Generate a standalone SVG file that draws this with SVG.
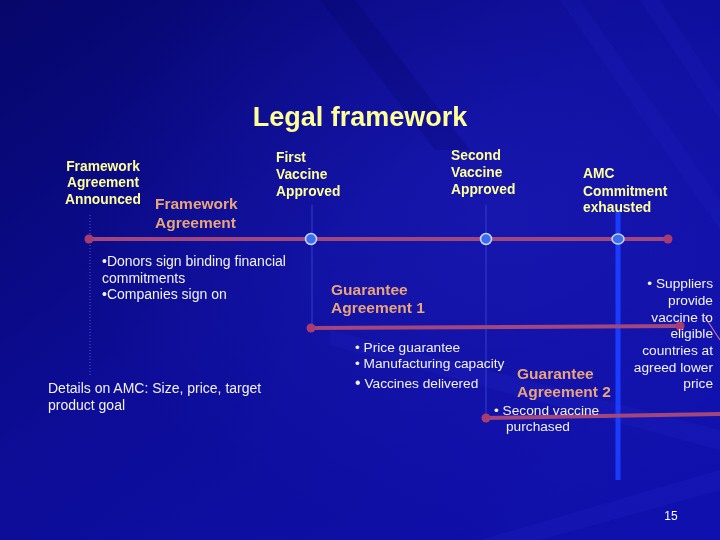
<svg xmlns="http://www.w3.org/2000/svg" width="720" height="540" viewBox="0 0 720 540">
<defs>
<linearGradient id="bg" x1="0" y1="0" x2="1" y2="1">
<stop offset="0" stop-color="#06066a"/>
<stop offset="0.45" stop-color="#0d0d98"/>
<stop offset="1" stop-color="#1010b0"/>
</linearGradient>
<radialGradient id="glow" cx="0.7" cy="0.4" r="0.6">
<stop offset="0" stop-color="#2222c4" stop-opacity="0.45"/>
<stop offset="1" stop-color="#2222c4" stop-opacity="0"/>
</radialGradient>
<style>
.yl{font-family:"Liberation Sans",Arial,sans-serif;font-weight:bold;font-size:13.8px;fill:#ffff99}
.or{font-family:"Liberation Sans",Arial,sans-serif;font-weight:bold;font-size:15.5px;fill:#eaa47a}
.wt{font-family:"Liberation Sans",Arial,sans-serif;font-size:14px;fill:#f2f2f2}
.sm{font-family:"Liberation Sans",Arial,sans-serif;font-size:13.7px;fill:#f2f2f2}
.tl{stroke:#a2467e;stroke-width:4;fill:none;stroke-linecap:round}
.dot{fill:#a83c70}
.ms{fill:#3c6cf0;stroke:#c8d8ff;stroke-width:1.5}
.vd{stroke:#4a5cd0;stroke-width:1;stroke-dasharray:1 2;fill:none}
.vs{stroke:#3040d0;stroke-width:1;fill:none}
</style>
</defs>
<rect width="720" height="540" fill="url(#bg)"/>
<rect width="720" height="540" fill="url(#glow)"/>
<g id="streaks" opacity="0.35">
<polygon points="320,0 355,0 470,150 435,150" fill="#020250" opacity="0.5"/>
<polygon points="560,0 580,0 720,200 720,230" fill="#3030d0" opacity="0.4"/>
<polygon points="640,0 660,0 720,90 720,120" fill="#3030d0" opacity="0.4"/>
<polygon points="330,330 720,430 720,450 330,345" fill="#4040e0" opacity="0.35"/>
<polygon points="480,540 720,470 720,490 540,540" fill="#4040e0" opacity="0.35"/>
</g>
<text x="360" y="126" text-anchor="middle" style="font-family:'Liberation Sans',Arial,sans-serif;font-weight:bold;font-size:27px;fill:#ffff99">Legal framework</text>
<g id="connectors">
<line class="vd" x1="90" y1="215" x2="90" y2="376"/>
<line class="vs" x1="312" y1="205" x2="312" y2="330"/>
<line class="vs" x1="486" y1="205" x2="486" y2="418"/>
<line x1="618" y1="212" x2="618" y2="480" stroke="#1a3cff" stroke-width="5"/>
<line class="tl" x1="89" y1="239" x2="668" y2="239"/>
<line class="tl" x1="311" y1="328" x2="680" y2="326"/>
<line class="tl" x1="486" y1="418" x2="720" y2="414"/>
<line x1="705" y1="317" x2="720" y2="340" stroke="#c070b0" stroke-width="1.2"/>
<circle class="dot" cx="89" cy="239" r="4.5"/>
<circle class="dot" cx="668" cy="239" r="4.5"/>
<circle class="dot" cx="311" cy="328" r="4.5"/>
<circle class="dot" cx="680" cy="326" r="4.5"/>
<circle class="dot" cx="486" cy="418" r="4.5"/>
</g>
<g id="framework-announced">
<text class="yl" text-anchor="middle"><tspan x="103" y="171">Framework</tspan><tspan x="103" y="187">Agreement</tspan><tspan x="103" y="204">Announced</tspan></text>
</g>
<g id="framework-agreement">
<text class="or"><tspan x="155" y="209">Framework</tspan><tspan x="155" y="228">Agreement</tspan></text>
<text class="wt"><tspan x="102" y="266">•Donors sign binding financial</tspan><tspan x="102" y="283">commitments</tspan><tspan x="102" y="299">•Companies sign on</tspan></text>
<text class="wt"><tspan x="48" y="393">Details on AMC:  Size, price, target</tspan><tspan x="48" y="410">product goal</tspan></text>
</g>
<g id="first-vaccine">
<text class="yl"><tspan x="276" y="162">First</tspan><tspan x="276" y="179">Vaccine</tspan><tspan x="276" y="196">Approved</tspan></text>
<ellipse class="ms" cx="311" cy="239" rx="5.5" ry="5.5"/>
</g>
<g id="second-vaccine">
<text class="yl"><tspan x="451" y="160">Second</tspan><tspan x="451" y="177">Vaccine</tspan><tspan x="451" y="194">Approved</tspan></text>
<ellipse class="ms" cx="486" cy="239" rx="5.5" ry="5.5"/>
</g>
<g id="amc-exhausted">
<text class="yl"><tspan x="583" y="178">AMC</tspan><tspan x="583" y="196">Commitment</tspan><tspan x="583" y="212">exhausted</tspan></text>
<ellipse class="ms" cx="618" cy="239" rx="6" ry="5"/>
</g>
<g id="guarantee-1">
<text class="or"><tspan x="331" y="295">Guarantee</tspan><tspan x="331" y="313">Agreement 1</tspan></text>
<text class="sm"><tspan x="355" y="352">• Price guarantee</tspan><tspan x="355" y="368">• Manufacturing capacity</tspan></text>
<text class="sm" x="355" y="388"><tspan font-size="16px">•</tspan> Vaccines delivered</text>
</g>
<g id="guarantee-2">
<text class="or"><tspan x="517" y="379">Guarantee</tspan><tspan x="517" y="397">Agreement 2</tspan></text>
<text class="sm"><tspan x="494" y="415">• Second vaccine</tspan><tspan x="506" y="431">purchased</tspan></text>
</g>
<g id="suppliers">
<text class="sm" text-anchor="end"><tspan x="713" y="288">• Suppliers</tspan><tspan x="713" y="305">provide</tspan><tspan x="713" y="322">vaccine to</tspan><tspan x="713" y="338">eligible</tspan><tspan x="713" y="355">countries at</tspan><tspan x="713" y="372">agreed lower</tspan><tspan x="713" y="388">price</tspan></text>
</g>
<text x="671" y="520" text-anchor="middle" style="font-family:'Liberation Sans',Arial,sans-serif;font-size:12px;fill:#ffffff">15</text>
</svg>
